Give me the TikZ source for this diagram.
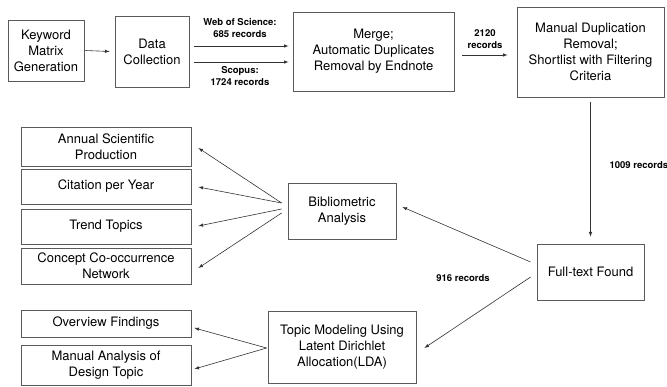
\documentclass[tikz,border=0pt]{standalone}
\usepackage{fontspec}
\setmainfont{TeX Gyre Heros}
\usepackage{xcolor}
\usetikzlibrary{arrows}
\usetikzlibrary{math}
\definecolor{mygray}{RGB}{90, 90, 90}

\begin{document}
\begin{tikzpicture}[x=1pt, y=1pt,
  box/.style={draw=mygray, line width=0.8, align=center, inner sep=0pt,
    font=\fontsize{13}{16}\selectfont},
  lbl/.style={align=center, font=\bfseries\fontsize{9.5}{11.5}\selectfont},
  arr/.style={-latex, line width=0.6, color=black!80, shorten >=0pt}]
\tikzmath{
\H=386;
\W=667;
}
\useasboundingbox (0,0) rectangle (\W,\H);

%top row
\node[box, minimum width=76, minimum height=61] (kw) at (46,\H-50.5) {Keyword\\Matrix\\Generation};
\node[box, minimum width=74, minimum height=71] (dc) at (152,\H-51.5) {Data\\Collection};
\node[box, minimum width=161, minimum height=79] (mg) at (373.5,\H-51.5) {Merge;\\Automatic Duplicates\\Removal by Endnote};
\node[box, minimum width=147, minimum height=90] (md) at (590.5,\H-52) {Manual Duplication\\Removal;\\Shortlist with Filtering\\Criteria};

%right and middle
\node[box, minimum width=107, minimum height=56] (ft) at (590.5,\H-272) {Full-text Found};
\node[box, minimum width=108, minimum height=56] (ba) at (342,\H-211) {Bibliometric\\Analysis};
\node[box, minimum width=148, minimum height=72] (tm) at (342,\H-347) {Topic Modeling Using\\Latent Dirichlet\\Allocation(LDA)};

%left column
\node[box, minimum width=170, minimum height=39] (an) at (106,\H-146.5) {Annual Scientific\\Production};
\node[box, minimum width=170, minimum height=35] (cy) at (106,\H-186.5) {Citation per Year};
\node[box, minimum width=170, minimum height=35] (tt) at (106,\H-226.5) {Trend Topics};
\node[box, minimum width=170, minimum height=36] (cc) at (106,\H-266) {Concept Co-occurrence\\Network};
\node[box, minimum width=170, minimum height=27] (of) at (106,\H-323.5) {Overview Findings};
\node[box, minimum width=170, minimum height=40] (ma) at (106,\H-365) {Manual Analysis of\\Design Topic};

%arrows
\draw[arr] ([xshift=1]kw.east) -- ([xshift=-5]dc.east -| dc.west);
\draw[arr] ([shift={(5,5.5)}]dc.east) -- ([shift={(-4,5.5)}]dc.east -| mg.west);
\draw[arr] ([shift={(5,-10.5)}]dc.east) -- ([shift={(-4,-10.5)}]dc.east -| mg.west);
\draw[arr] ([shift={(8,-3.5)}]mg.east) -- ([shift={(-9,-3.5)}]mg.east -| md.west);
\draw[arr] ([yshift=-5]md.south) -- ([yshift=7]ft.north);
\draw[arr] ([shift={(-6,10)}]ft.west) -- ([shift={(6,4)}]ba.east);
\draw[arr] ([shift={(-6,-5)}]ft.west) -- ([shift={(8,-1)}]tm.east);

\draw[arr] ([shift={(-6,8)}]ba.west) -- ([shift={(7,-1.5)}]an.east);
\draw[arr] ([shift={(-6,8)}]ba.west) -- ([shift={(7,-0.5)}]cy.east);
\draw[arr] ([shift={(-6,2)}]ba.west) -- ([shift={(7,0.5)}]tt.east);
\draw[arr] ([shift={(-6,-2)}]ba.west) -- ([shift={(7,-2)}]cc.east);

\draw[arr] ([shift={(-1,-1)}]tm.west) -- ([shift={(3,-4.5)}]of.east);
\draw[arr] ([shift={(-1,-1)}]tm.west) -- ([shift={(3,-4)}]ma.east);

%labels
\node[lbl] (wos) at (240,\H-28) {Web of Science:\\685 records};
\node[lbl] (sc) at (240,\H-76) {Scopus:\\1724 records};
\node[lbl] (n2120) at (485,\H-39) {2120\\records};
\node[lbl, anchor=west] (n1009) at (606,\H-165) {1009 records};
\node[lbl] (n916) at (463,\H-278) {916 records};

\end{tikzpicture}
\end{document}
